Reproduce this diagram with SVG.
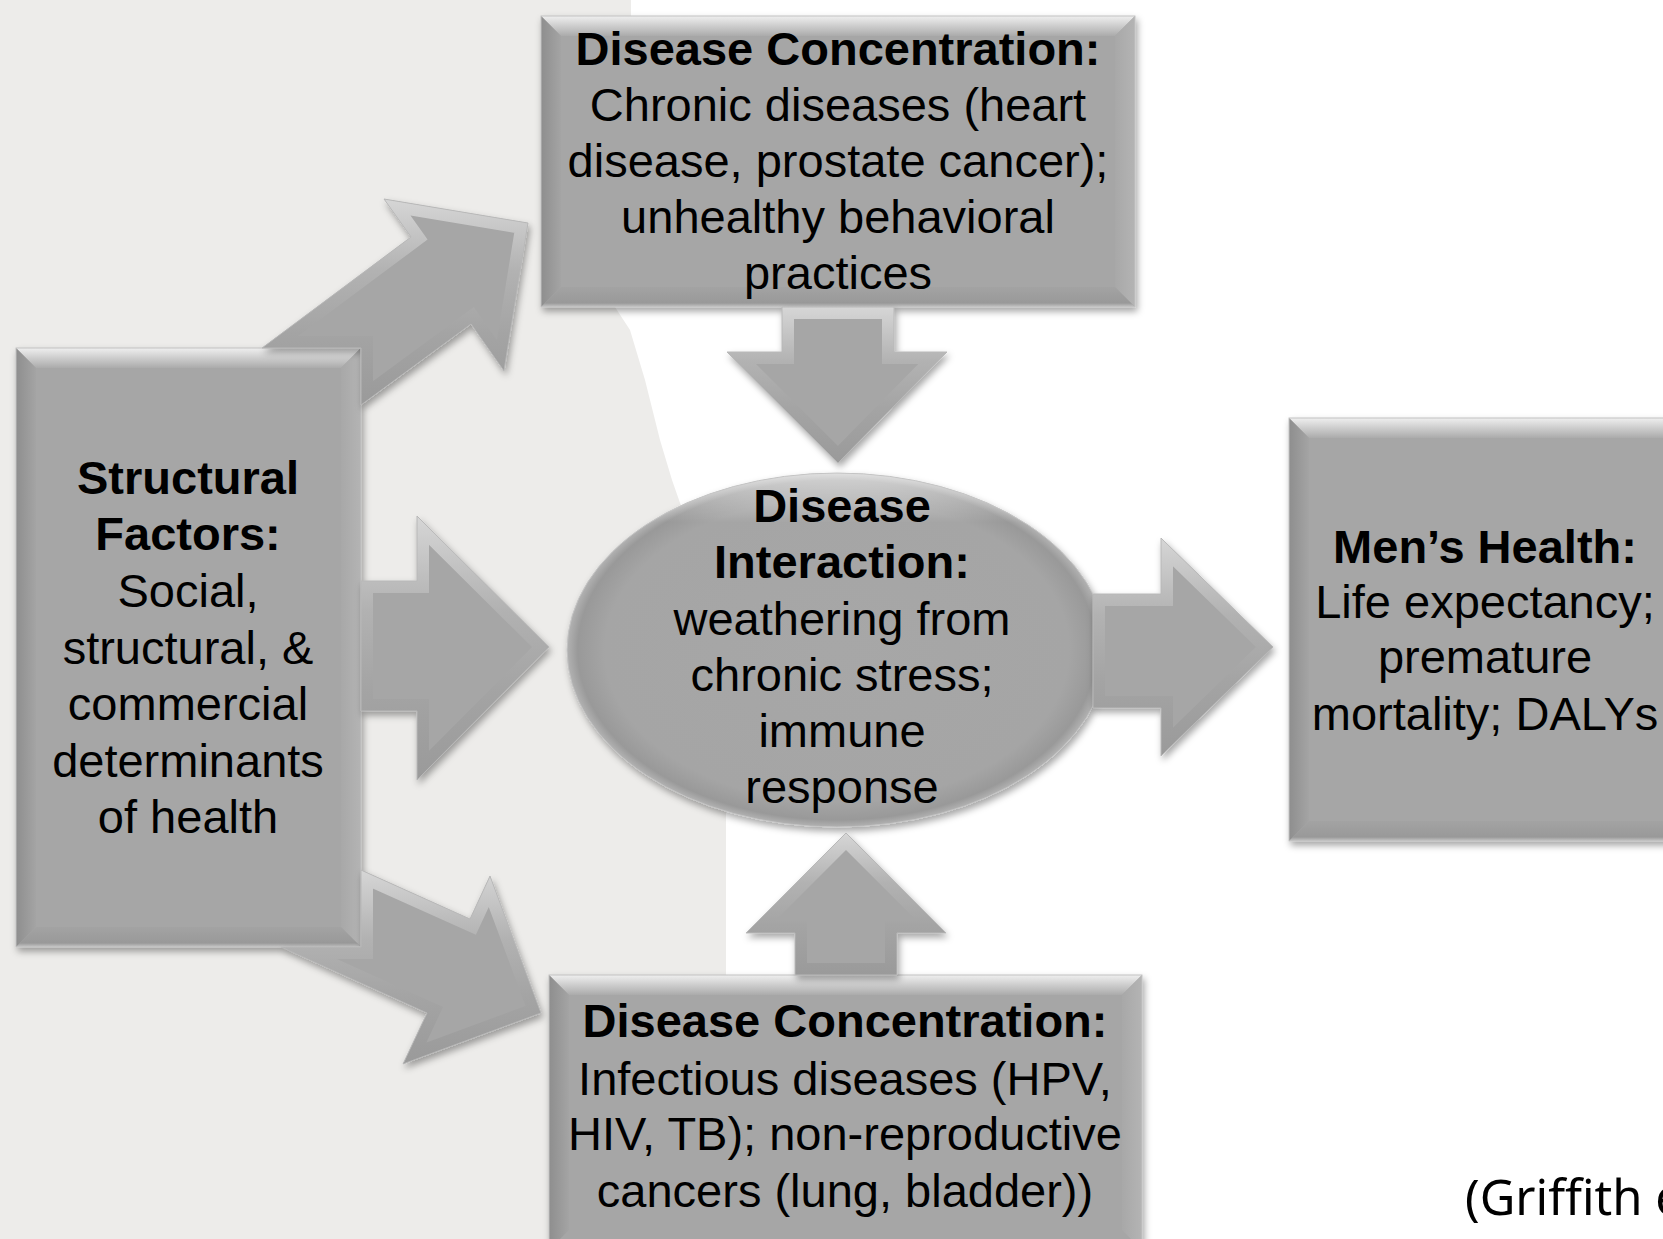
<svg xmlns="http://www.w3.org/2000/svg" xmlns:xlink="http://www.w3.org/1999/xlink" width="1663" height="1239" viewBox="0 0 1663 1239">
<style>
.t{font-family:"Liberation Sans",Arial,sans-serif;font-size:47px;fill:#000;text-anchor:middle}
.b{font-weight:bold}
.base{fill:#A6A6A6}
.bt{fill:url(#gTop)}
.bl{fill:url(#gLeft)}
.br{fill:url(#gRight)}
.bb{fill:url(#gBot)}
.edge{fill:none;stroke:#C2C2C2;stroke-width:1}
.af{fill:#A6A6A6;stroke:url(#gBand);stroke-width:24;stroke-linejoin:miter}
.ao{fill:none;stroke:#B8B8B8;stroke-width:1}
.cite{font-family:"Noto Sans","Open Sans",sans-serif;font-size:49px;fill:#000}
</style>
<defs>
<linearGradient id="gTop" x1="0" y1="0" x2="0" y2="1"><stop offset="0" stop-color="#EFEFEF"/><stop offset="1" stop-color="#ABABAB"/></linearGradient>
<linearGradient id="gLeft" x1="0" y1="0" x2="1" y2="0"><stop offset="0" stop-color="#8E8E8E"/><stop offset="1" stop-color="#A4A4A4"/></linearGradient>
<linearGradient id="gRight" x1="0" y1="0" x2="1" y2="0"><stop offset="0" stop-color="#A8A8A8"/><stop offset="1" stop-color="#B4B4B4"/></linearGradient>
<linearGradient id="gBot" x1="0" y1="0" x2="0" y2="1"><stop offset="0" stop-color="#A3A3A3"/><stop offset=".8" stop-color="#999999"/><stop offset="1" stop-color="#C6C6C6"/></linearGradient>
<radialGradient id="gEll" cx=".5" cy=".5" r=".5"><stop offset="0" stop-color="#A7A7A7"/><stop offset=".86" stop-color="#A5A5A5"/><stop offset=".96" stop-color="#999999"/><stop offset="1" stop-color="#B2B2B2"/></radialGradient>
<linearGradient id="gEllHi" x1="0" y1="0" x2="0" y2="1"><stop offset="0" stop-color="#FFFFFF" stop-opacity=".6"/><stop offset=".14" stop-color="#FFFFFF" stop-opacity="0"/></linearGradient>
<linearGradient id="gBand" x1="0" y1="0" x2="0" y2="1"><stop offset="0" stop-color="#D6D6D6"/><stop offset=".35" stop-color="#B2B2B2"/><stop offset=".65" stop-color="#A4A4A4"/><stop offset="1" stop-color="#9A9A9A"/></linearGradient>
<filter id="sh" x="-10%" y="-10%" width="125%" height="125%"><feDropShadow dx="2" dy="4" stdDeviation="3.5" flood-color="#000" flood-opacity=".35"/></filter>
<polygon id="pA1" points="262,348 411,237 384,199 528,223 504,371 471,324 361,405 361,348"/>
<polygon id="pA2" points="361,581 417,581 417,516 549,647 417,780 417,711 361,711"/>
<polygon id="pA3" points="361,870 470,919 490,876 541,1013 403,1064 427,1013 281,947 361,947"/>
<polygon id="pA4" points="782,307 894,307 894,352 947,352 838,463 727,352 782,352"/>
<polygon id="pA5" points="795,975 795,933 746,933 846,833 946,933 897,933 897,975"/>
<polygon id="pA6" points="1093,594 1161,594 1161,538 1273,647 1161,756 1161,708 1093,708"/>
<clipPath id="cA1"><use xlink:href="#pA1"/></clipPath>
<clipPath id="cA2"><use xlink:href="#pA2"/></clipPath>
<clipPath id="cA3"><use xlink:href="#pA3"/></clipPath>
<clipPath id="cA4"><use xlink:href="#pA4"/></clipPath>
<clipPath id="cA5"><use xlink:href="#pA5"/></clipPath>
<clipPath id="cA6"><use xlink:href="#pA6"/></clipPath>
</defs>

<rect x="0" y="0" width="1663" height="1239" fill="#FFFFFF"/>
<polygon points="0,0 631,0 631,16 615,307 630,330 645,380 660,440 672,480 700,560 718,640 722,700 726,800 726,1239 0,1239" fill="#EDECEA"/>

<g id="node-structural">
<g filter="url(#sh)">
<rect class="base" x="16" y="348" width="345" height="599"/>
<polygon class="bt" points="16,348 361,348 341,368 36,368"/>
<polygon class="bl" points="16,348 36,368 36,927 16,947"/>
<polygon class="br" points="361,348 361,947 341,927 341,368"/>
<polygon class="bb" points="16,947 36,927 341,927 361,947"/>
<rect class="edge" x="16" y="348" width="345" height="599"/>
</g>
<text class="t b" x="188" y="494">Structural</text>
<text class="t b" x="188" y="550">Factors:</text>
<text class="t" x="188" y="607">Social,</text>
<text class="t" x="188" y="664">structural, &amp;</text>
<text class="t" x="188" y="720">commercial</text>
<text class="t" x="188" y="777">determinants</text>
<text class="t" x="188" y="833">of health</text>
</g>

<g id="node-chronic">
<g filter="url(#sh)">
<rect class="base" x="541" y="16" width="594" height="291"/>
<polygon class="bt" points="541,16 1135,16 1115,36 561,36"/>
<polygon class="bl" points="541,16 561,36 561,287 541,307"/>
<polygon class="br" points="1135,16 1135,307 1115,287 1115,36"/>
<polygon class="bb" points="541,307 561,287 1115,287 1135,307"/>
<rect class="edge" x="541" y="16" width="594" height="291"/>
</g>
<text class="t b" x="838" y="65">Disease Concentration:</text>
<text class="t" x="838" y="121">Chronic diseases (heart</text>
<text class="t" x="838" y="177">disease, prostate cancer);</text>
<text class="t" x="838" y="233">unhealthy behavioral</text>
<text class="t" x="838" y="289">practices</text>
</g>

<g id="node-interaction">
<g filter="url(#sh)">
<ellipse cx="837" cy="650" rx="270" ry="177" fill="url(#gEll)"/>
<ellipse cx="837" cy="650" rx="270" ry="177" fill="url(#gEllHi)" stroke="#C4C4C4" stroke-width="1"/>
</g>
<text class="t b" x="842" y="522">Disease</text>
<text class="t b" x="842" y="578">Interaction:</text>
<text class="t" x="842" y="635">weathering from</text>
<text class="t" x="842" y="691">chronic stress;</text>
<text class="t" x="842" y="747">immune</text>
<text class="t" x="842" y="803">response</text>
</g>

<g id="node-infectious">
<g filter="url(#sh)">
<rect class="base" x="549" y="975" width="593" height="275"/>
<polygon class="bt" points="549,975 1142,975 1122,995 569,995"/>
<polygon class="bl" points="549,975 569,995 569,1230 549,1250"/>
<polygon class="br" points="1142,975 1142,1250 1122,1230 1122,995"/>
<rect class="edge" x="549" y="975" width="593" height="275"/>
</g>
<text class="t b" x="845" y="1037">Disease Concentration:</text>
<text class="t" x="845" y="1095">Infectious diseases (HPV,</text>
<text class="t" x="845" y="1150">HIV, TB); non-reproductive</text>
<text class="t" x="845" y="1207">cancers (lung, bladder))</text>
</g>

<g id="node-menshealth">
<g filter="url(#sh)">
<rect class="base" x="1289" y="418" width="400" height="423"/>
<polygon class="bt" points="1289,418 1689,418 1669,438 1309,438"/>
<polygon class="bl" points="1289,418 1309,438 1309,821 1289,841"/>
<polygon class="bb" points="1289,841 1309,821 1669,821 1689,841"/>
<rect class="edge" x="1289" y="418" width="400" height="423"/>
</g>
<text class="t b" x="1485" y="563">Men’s Health:</text>
<text class="t" x="1485" y="618">Life expectancy;</text>
<text class="t" x="1485" y="673">premature</text>
<text class="t" x="1485" y="730">mortality; DALYs</text>
</g>

<g id="connectors">
<g filter="url(#sh)"><use xlink:href="#pA1" class="af" clip-path="url(#cA1)"/><use xlink:href="#pA1" class="ao"/></g>
<g filter="url(#sh)"><use xlink:href="#pA2" class="af" clip-path="url(#cA2)"/><use xlink:href="#pA2" class="ao"/></g>
<g filter="url(#sh)"><use xlink:href="#pA3" class="af" clip-path="url(#cA3)"/><use xlink:href="#pA3" class="ao"/></g>
<g filter="url(#sh)"><use xlink:href="#pA4" class="af" clip-path="url(#cA4)"/><use xlink:href="#pA4" class="ao"/></g>
<g filter="url(#sh)"><use xlink:href="#pA5" class="af" clip-path="url(#cA5)"/><use xlink:href="#pA5" class="ao"/></g>
<g filter="url(#sh)"><use xlink:href="#pA6" class="af" clip-path="url(#cA6)"/><use xlink:href="#pA6" class="ao"/></g>
</g>

<text id="citation" class="cite" x="1465" y="1215">(Griffith e</text>
</svg>
